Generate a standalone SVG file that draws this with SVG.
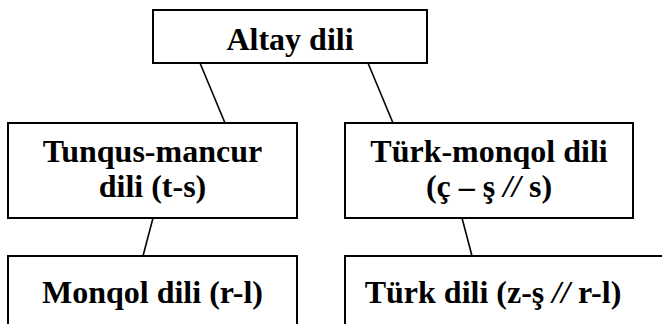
<svg xmlns="http://www.w3.org/2000/svg" width="662" height="324" viewBox="0 0 662 324">
<style>
.box{fill:#fff;stroke:#000;stroke-width:2}
.lbl{font-family:"Liberation Serif","Times New Roman",serif;font-weight:bold;font-size:32px;fill:#000;text-anchor:middle}
.con{stroke:#000;stroke-width:1.6;fill:none}
</style>
<rect width="662" height="324" fill="#fff"/>
<g id="connectors">
<line class="con" x1="200" y1="63" x2="225" y2="123"/>
<line class="con" x1="368" y1="63" x2="393" y2="123"/>
<line class="con" x1="153" y1="218" x2="143" y2="256"/>
<line class="con" x1="462" y1="218" x2="472" y2="256"/>
</g>
<g id="altay">
<rect class="box" x="153" y="10" width="274" height="53"/>
<text class="lbl" x="290" y="50">Altay dili</text>
</g>
<g id="tunqus">
<rect class="box" x="8" y="123" width="289" height="95"/>
<text class="lbl" x="152.5" y="162">Tunqus-mancur</text>
<text class="lbl" x="152.5" y="197">dili (t-s)</text>
</g>
<g id="turkmonqol">
<rect class="box" x="345" y="123" width="288" height="95"/>
<text class="lbl" x="489" y="162">Türk-monqol dili</text>
<text class="lbl" x="489" y="197">(ç – ş <tspan font-style="italic">//</tspan> s)</text>
</g>
<g id="monqol">
<rect class="box" x="8" y="256" width="289" height="90"/>
<text class="lbl" x="152.5" y="303">Monqol dili (r-l)</text>
</g>
<g id="turk">
<rect class="box" x="345" y="256" width="340" height="90"/>
<text class="lbl" x="493" y="303">Türk dili (z-ş <tspan font-style="italic">//</tspan> r-l)</text>
</g>
</svg>
